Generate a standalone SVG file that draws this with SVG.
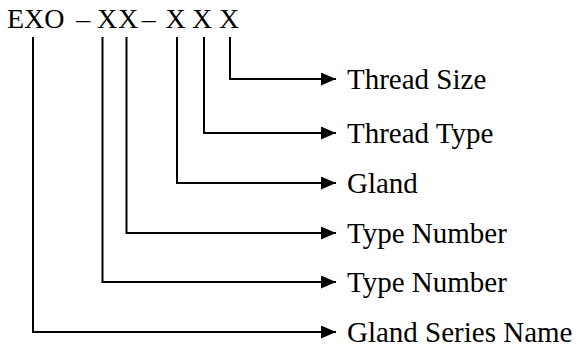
<svg xmlns="http://www.w3.org/2000/svg" width="579" height="349" viewBox="0 0 579 349">
<style>
.t{font-family:"Liberation Serif","Times New Roman",serif;fill:#000}
.h{font-size:28px}
.m{text-anchor:middle}
.l{font-size:29px}
.c{fill:none;stroke:#000;stroke-width:2}
</style>
<defs>
<marker id="ah" markerWidth="15" markerHeight="13" refX="15" refY="6.5" orient="auto" markerUnits="userSpaceOnUse">
<path d="M0,0 L15,6.5 L0,13 Z" fill="#000"/>
</marker>
</defs>
<rect width="579" height="349" fill="#fff"/>
<g id="code">
<text class="t h" x="7" y="28">EXO</text>
<text class="t h m" x="83.3" y="28">–</text>
<text class="t h m" x="107" y="28">X</text>
<text class="t h m" x="128" y="28">X</text>
<text class="t h m" x="148.7" y="28">–</text>
<text class="t h m" x="175.5" y="28">X</text>
<text class="t h m" x="202" y="28">X</text>
<text class="t h m" x="229" y="28">X</text>
</g>
<g id="connectors">
<path class="c" marker-end="url(#ah)" d="M230,37 V79 H336"/>
<path class="c" marker-end="url(#ah)" d="M204,37 V133 H336"/>
<path class="c" marker-end="url(#ah)" d="M177,37 V183 H336"/>
<path class="c" marker-end="url(#ah)" d="M126.5,37 V233 H336"/>
<path class="c" marker-end="url(#ah)" d="M102.5,37 V282 H336"/>
<path class="c" marker-end="url(#ah)" d="M33,37 V332 H336"/>
</g>
<g id="n1"><text class="t l" x="347" y="89">Thread Size</text></g>
<g id="n2"><text class="t l" x="347" y="143">Thread Type</text></g>
<g id="n3"><text class="t l" x="347" y="193">Gland</text></g>
<g id="n4"><text class="t l" x="347" y="243">Type Number</text></g>
<g id="n5"><text class="t l" x="347" y="292">Type Number</text></g>
<g id="n6"><text class="t l" x="347" y="342">Gland Series Name</text></g>
</svg>
